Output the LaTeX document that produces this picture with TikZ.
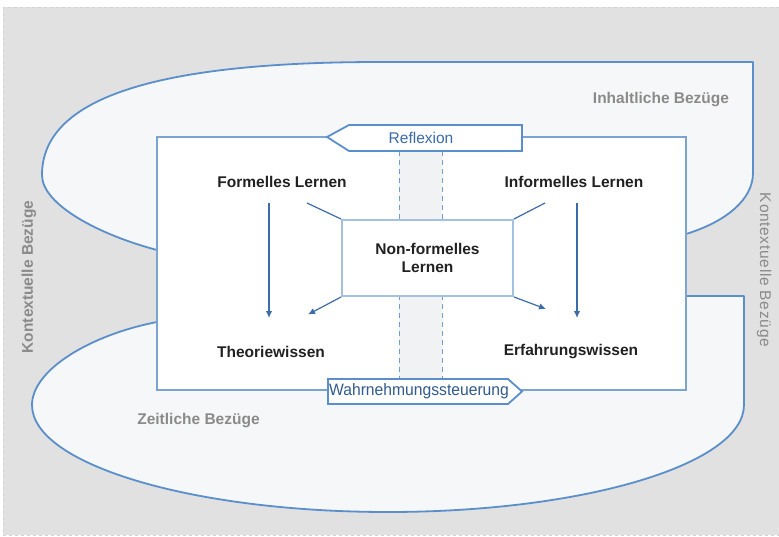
\documentclass[tikz,border=0pt]{standalone}
\usepackage{fontspec}
\setmainfont{Liberation Sans}
\usetikzlibrary{arrows.meta}
\definecolor{bggray}{HTML}{E1E1E1}
\definecolor{shapefill}{HTML}{F6F7F8}
\definecolor{shapeblue}{HTML}{5A8FCB}
\definecolor{rectblue}{HTML}{7BA4D1}
\definecolor{nfblue}{HTML}{A5C1E1}
\definecolor{arrowblue}{HTML}{3C6CA8}
\definecolor{labgray}{HTML}{8A8A8A}
\definecolor{textblue}{HTML}{3A6BA5}
\definecolor{bandfill}{HTML}{F1F2F3}
\definecolor{dashblue}{HTML}{6E9ED3}
\begin{document}
\begin{tikzpicture}[x=1pt,y=-1pt,
  zone/.style={fill=shapefill,draw=shapeblue,line width=1.8pt,line join=round},
  tagbox/.style={fill=white,draw=shapeblue,line width=1.8pt,line join=miter},
  conn/.style={draw=arrowblue,line width=1.2pt},
  arr/.style={conn,-{Latex[length=7pt,width=6.5pt]}},
  lab/.style={font=\fontsize{15.5}{18}\selectfont\bfseries,text=black!87,inner sep=0pt},
  zonelab/.style={font=\fontsize{15.5}{18}\selectfont\bfseries,text=labgray,inner sep=0pt},
  dashline/.style={draw=dashblue,line width=1pt,dash pattern=on 5pt off 4pt}]
\useasboundingbox (0,0) rectangle (779,536);
% background
\fill[white] (0,0) rectangle (779,536);
\draw[fill=bggray,draw=black!17,dashed,line width=0.8pt] (3,7) rectangle (781,535);
% upper zone (Inhaltliche Bezuege)
\path[zone] (157,250) .. controls (100,235) and (42,205) .. (42,175)
  .. controls (42,100) and (150,62) .. (380,62) -- (753,62) -- (753,173)
  .. controls (753,200) and (725,222) .. (686,234) -- cycle;
% lower zone (Zeitliche Bezuege)
\path[zone] (157,322) .. controls (90,335) and (32,370) .. (32,405)
  arc[start angle=180,end angle=0,x radius=356,y radius=107]
  -- (744,296) -- (686,296) -- (600,300) -- cycle;
% inner frame
\node[draw=rectblue,fill=white,line width=1.2pt,inner sep=0pt,
  minimum width=529pt,minimum height=253pt] (frame) at (421.5,263.5) {};
% band
\fill[bandfill] (399,151) rectangle (442,379);
\draw[dashline] (399,151) -- (399,379);
\draw[dashline] (442,151) -- (442,379);
% Reflexion tag
\draw[tagbox] (327,137) -- (349,125) -- (522,125) -- (522,151) -- (349,151) -- cycle;
\node[text=textblue,font=\fontsize{15.5}{18}\selectfont,inner sep=0pt] (refl) at (421,138) {Reflexion};
% Wahrnehmungssteuerung tag
\draw[tagbox] (328,379) -- (508,379) -- (522,391.5) -- (508,404) -- (328,404) -- cycle;
\node[text=textblue!85!black,font=\fontsize{16.5}{19}\selectfont,inner sep=0pt] (wahr) at (419,391) {\scalebox{0.95}[1]{Wahrnehmungssteuerung}};
% Non-formelles box
\node[draw=nfblue,line width=2pt,fill=white,inner sep=0pt,minimum width=171pt,
  minimum height=76pt,align=center,font=\fontsize{15.5}{18}\selectfont\bfseries,
  text=black!87] (nf) at (427.5,258) {Non-formelles\\Lernen};
% labels
\node[lab] (fl) at (282,182) {Formelles Lernen};
\node[lab] (il) at (574,182) {Informelles Lernen};
\node[lab] (tw) at (271,352) {Theoriewissen};
\node[lab] (ew) at (571,352) {Erfahrungswissen};
\node[zonelab] (inh) at (661,100) {Inhaltliche Bezüge};
\node[zonelab] (zeit) at (198.5,421) {Zeitliche Bezüge};
\node[zonelab,rotate=90] (kl) at (29,277) {Kontextuelle Bezüge};
\node[font=\fontsize{15.5}{18}\selectfont\addfontfeature{LetterSpace=4.5},text=labgray,
  inner sep=0pt,rotate=-90] (kr) at (764,270) {Kontextuelle Bezüge};
% connectors
\coordinate (fla) at (269,203);
\coordinate (flb) at (269,318);
\coordinate (ila) at (577,203);
\coordinate (ilb) at (577,318);
\coordinate (fld) at (307,203);
\coordinate (ild) at (545,203);
\coordinate (twd) at (308,314.5);
\coordinate (ewd) at (546,309);
\draw[arr] (fla) -- (flb);
\draw[arr] (ila) -- (ilb);
\draw[conn] (fld) -- (nf.north west);
\draw[conn] (ild) -- (nf.north east);
\draw[arr] (nf.south west) -- (twd);
\draw[arr] (nf.south east) -- (ewd);
\end{tikzpicture}
\end{document}
